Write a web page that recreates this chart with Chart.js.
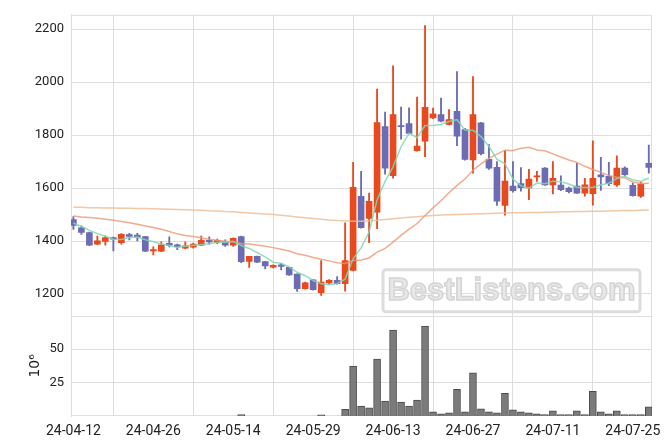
<!DOCTYPE html>
<html>
<head>
<meta charset="utf-8">
<script src="https://cdn.jsdelivr.net/npm/chart.js@4.4.1/dist/chart.umd.min.js"></script>
<style>
  html, body { margin: 0; padding: 0; background: #fff; }
  #wrap { width: 671px; height: 444px; }
</style>
</head>
<body>
<div id="wrap"><canvas id="chart" width="671" height="444"></canvas></div>
<script>
// trading days (yy-mm-dd)
const dates = [
  "24-04-12","24-04-15","24-04-16","24-04-17","24-04-18","24-04-19","24-04-22","24-04-23","24-04-24","24-04-25",
  "24-04-26","24-04-29","24-04-30","24-05-02","24-05-03","24-05-07","24-05-08","24-05-09","24-05-10","24-05-13",
  "24-05-14","24-05-16","24-05-17","24-05-20","24-05-21","24-05-22","24-05-23","24-05-24","24-05-27","24-05-28",
  "24-05-29","24-05-30","24-05-31","24-06-03","24-06-04","24-06-05","24-06-07","24-06-10","24-06-11","24-06-12",
  "24-06-13","24-06-14","24-06-17","24-06-18","24-06-19","24-06-20","24-06-21","24-06-24","24-06-25","24-06-26",
  "24-06-27","24-06-28","24-07-01","24-07-02","24-07-03","24-07-04","24-07-05","24-07-08","24-07-09","24-07-10",
  "24-07-11","24-07-12","24-07-15","24-07-16","24-07-17","24-07-18","24-07-19","24-07-22","24-07-23","24-07-24",
  "24-07-25","24-07-26","24-07-29"
];
const opens = [1481,1450,1432,1388,1398,1413,1394,1424,1422,1417,1363,1362,1391,1386,1373,1377,1384,1403,1394,1399,
  1384,1417,1323,1342,1322,1301,1310,1301,1275,1220,1253,1205,1242,1252,1239,1289,1569,1485,1509,1832,
  1647,1836,1843,1741,1777,1865,1877,1840,1890,1821,1706,1846,1708,1678,1534,1607,1617,1600,1642,1675,
  1612,1611,1600,1607,1581,1579,1650,1644,1612,1675,1610,1569,1693];
const highs = [1492,1457,1434,1419,1419,1415,1428,1429,1429,1418,1378,1397,1416,1388,1397,1392,1419,1416,1407,1404,
  1412,1419,1342,1343,1323,1310,1316,1302,1276,1245,1254,1326,1254,1266,1469,1697,1663,1581,1974,1887,
  2061,1906,1903,1943,2213,1902,1940,1896,2040,1825,2021,1848,1764,1700,1741,1700,1677,1671,1663,1677,
  1700,1646,1604,1693,1637,1778,1716,1697,1722,1680,1619,1622,1762];
const lows = [1444,1425,1382,1386,1384,1363,1388,1404,1400,1360,1347,1360,1378,1367,1370,1373,1382,1388,1390,1380,
  1380,1318,1300,1318,1295,1298,1291,1270,1210,1218,1214,1195,1238,1237,1211,1287,1448,1394,1447,1652,
  1637,1784,1804,1739,1718,1862,1850,1838,1760,1705,1656,1725,1670,1534,1498,1584,1588,1556,1625,1610,
  1578,1590,1582,1580,1569,1535,1591,1609,1606,1645,1569,1565,1656];
const closes = [1459,1432,1384,1401,1413,1407,1425,1417,1414,1362,1368,1386,1384,1378,1382,1388,1403,1397,1403,1384,
  1410,1322,1342,1320,1306,1308,1304,1272,1220,1242,1216,1245,1252,1239,1326,1603,1450,1550,1847,1675,
  1877,1832,1806,1758,1905,1880,1852,1858,1796,1708,1877,1730,1675,1550,1626,1590,1601,1634,1645,1612,
  1637,1594,1586,1581,1612,1637,1642,1616,1675,1650,1571,1615,1678];
// volume, millions
const volumes = [0,0,0,0,0,0,0,0,0,0,0,0,0,0,0,0,0,0,0,0,
  0,1.0,0,0,0,0,0,0,0,0,0,0.8,0,0,4.9,37.4,7.5,6.1,42.5,11.2,
  64.3,10.4,7.5,11.9,67.2,3.2,1.7,2.4,19.9,3.2,32.3,5.3,3.2,2.4,17.0,4.6,3.2,2.4,1.7,1.0,
  3.9,1.0,1.0,3.9,1.0,18.4,3.2,1.7,3.9,1.0,1.0,1.0,6.8];
// moving averages
const ma5 = [1468,1455,1440,1428,1418,1407,1406,1413,1415,1405,1397,1389,1383,1376,1380,1384,1387,1390,1395,1395,
  1399,1383,1372,1356,1340,1320,1316,1302,1282,1269,1251,1239,1235,1239,1256,1333,1374,1434,1555,1625,
  1680,1756,1807,1790,1836,1836,1840,1851,1858,1819,1818,1794,1757,1708,1692,1634,1608,1600,1619,1616,
  1626,1624,1615,1602,1602,1602,1612,1618,1636,1644,1631,1625,1638];
const ma20 = [1494,1491,1489,1486,1482,1478,1474,1469,1463,1457,1451,1444,1436,1427,1421,1417,1412,1407,1403,1399,
  1397,1391,1389,1385,1380,1375,1369,1362,1352,1346,1338,1331,1325,1318,1315,1326,1328,1336,1358,1372,
  1396,1421,1445,1466,1496,1525,1552,1582,1610,1634,1667,1691,1712,1728,1743,1742,1750,1754,1744,1741,
  1729,1717,1706,1697,1682,1670,1660,1647,1641,1639,1623,1617,1618];
const maLong = [1527,1527,1526,1526,1525,1525,1524,1524,1523,1523,1522,1521,1520,1519,1518,1517,1516,1514,1513,1511,
  1510,1508,1506,1504,1502,1500,1497,1494,1491,1488,1485,1482,1479,1477,1476,1475,1475,1476,1478,1481,
  1484,1487,1490,1492,1494,1496,1498,1499,1500,1501,1502,1503,1504,1505,1506,1507,1507,1508,1508,1509,
  1509,1510,1510,1511,1511,1512,1512,1513,1514,1515,1515,1516,1517];

const priceTicks = [1200, 1400, 1600, 1800, 2000, 2200];
const volTicks = [25, 50];
const xTickIdx = [0, 10, 20, 30, 40, 50, 60, 70];

const UP = "#e8491d";
const DOWN = "#6c6cb5";
const GRID = "#dedede";

const candleColor = opens.map((o, i) => (closes[i] >= o ? UP : DOWN));
const pts = (arr) => arr.map((v, i) => ({ x: i, y: v }));

// frame, panel separator and watermark
const framePlugin = {
  id: "frame",
  beforeDatasetsDraw(chart) {
    const ctx = chart.ctx;
    const a = chart.chartArea;
    const py = chart.scales.y;
    ctx.save();
    // watermark
    const bx = a.right - 269, by = py.bottom - 46, bw = 257, bh = 42;
    ctx.strokeStyle = "#dcdcdc";
    ctx.lineWidth = 3;
    ctx.beginPath();
    ctx.roundRect(bx, by, bw, bh, 3);
    ctx.stroke();
    ctx.font = "bold 31px 'Liberation Sans', Arial, sans-serif";
    ctx.textAlign = "center";
    ctx.textBaseline = "middle";
    ctx.fillStyle = "#e8e8e8";
    ctx.strokeStyle = "#d4d4d4";
    ctx.lineWidth = 1.5;
    ctx.fillText("BestListens.com", bx + bw / 2, by + bh / 2 + 1);
    ctx.strokeText("BestListens.com", bx + bw / 2, by + bh / 2 + 1);
    // frame
    ctx.strokeStyle = GRID;
    ctx.lineWidth = 1;
    ctx.strokeRect(a.left + 0.5, a.top + 0.5, a.right - a.left - 1, a.bottom - a.top - 1);
    ctx.beginPath();
    ctx.moveTo(a.left, Math.round(py.bottom) + 0.5);
    ctx.lineTo(a.right, Math.round(py.bottom) + 0.5);
    ctx.stroke();
    ctx.restore();
  }
};

Chart.defaults.font.family = "Roboto, 'DejaVu Sans', sans-serif";
Chart.defaults.color = "#222";

new Chart(document.getElementById("chart"), {
  type: "bar",
  data: {
    datasets: [
      { type: "line", data: pts(ma5), yAxisID: "y", borderColor: "rgba(130,215,180,0.85)", borderWidth: 1.5, pointRadius: 0, tension: 0 },
      { type: "line", data: pts(ma20), yAxisID: "y", borderColor: "rgba(238,150,115,0.8)", borderWidth: 1.5, pointRadius: 0, tension: 0 },
      { type: "line", data: pts(maLong), yAxisID: "y", borderColor: "rgba(240,190,150,0.85)", borderWidth: 1.5, pointRadius: 0, tension: 0 },
      {
        // candle bodies
        data: opens.map((o, i) => ({ x: i, y: [o, closes[i]] })),
        yAxisID: "y",
        backgroundColor: candleColor,
        barThickness: 6,
        grouped: false,
        minBarLength: 1
      },
      {
        // wicks
        data: lows.map((l, i) => ({ x: i, y: [l, highs[i]] })),
        yAxisID: "y",
        backgroundColor: candleColor,
        barThickness: 1.2,
        grouped: false
      },
      {
        data: pts(volumes),
        yAxisID: "y2",
        backgroundColor: "#7b7b7b",
        borderColor: "#4a4a4a",
        borderWidth: 1,
        barThickness: 7,
        grouped: false
      }
    ]
  },
  options: {
    responsive: false,
    animation: false,
    layout: { padding: { left: 5, right: 19, top: 10, bottom: 0 } },
    plugins: { legend: { display: false }, tooltip: { enabled: false } },
    scales: {
      x: {
        type: "linear",
        min: -0.3,
        max: 72.4,
        offset: false,
        afterBuildTicks: (s) => { s.ticks = xTickIdx.map((v) => ({ value: v })); },
        afterFit: (s) => { s.height = 28; },
        ticks: {
          maxRotation: 0,
          padding: 7,
          font: { size: 14 },
          callback: (v) => dates[v] || ""
        },
        grid: { color: GRID, drawTicks: false },
        border: { display: false }
      },
      y2: {
        type: "linear",
        position: "left",
        stack: "panels",
        stackWeight: 1,
        min: 0,
        max: 75,
        afterBuildTicks: (s) => { s.ticks = volTicks.map((v) => ({ value: v })); },
        afterFit: (s) => { s.width = 66; },
        ticks: { padding: 7, font: { size: 13 }, callback: (v) => String(v) },
        title: { display: true, text: "10\u2076", font: { size: 14, family: "'DejaVu Sans', sans-serif" }, padding: { top: 22, bottom: 0 } },
        grid: { color: GRID, drawTicks: false },
        border: { color: GRID }
      },
      y: {
        type: "linear",
        position: "left",
        stack: "panels",
        stackWeight: 3,
        min: 1118,
        max: 2254,
        afterBuildTicks: (s) => { s.ticks = priceTicks.map((v) => ({ value: v })); },
        afterFit: (s) => { s.width = 66; },
        ticks: { padding: 7, font: { size: 13 }, callback: (v) => String(v) },
        grid: { color: GRID, drawTicks: false },
        border: { color: GRID }
      }
    }
  },
  plugins: [framePlugin]
});
</script>
</body>
</html>
